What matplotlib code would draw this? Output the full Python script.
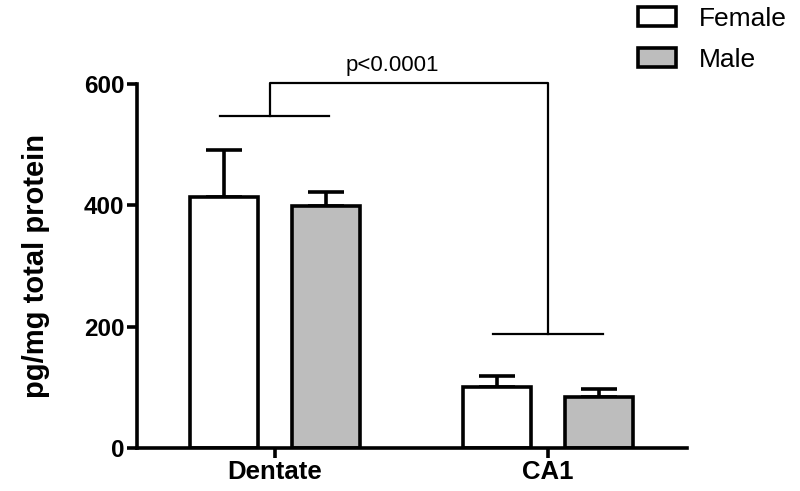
import matplotlib
matplotlib.use("Agg")
import matplotlib.pyplot as plt
import numpy as np

plt.rcParams['font.family'] = ['Liberation Sans', 'DejaVu Sans']

# data
regions = ["Dentate", "CA1"]
female_mean = [414, 100]
female_sem = [77, 19]
male_mean = [399, 83.5]
male_sem = [23, 14]
p_text = "p<0.0001"

fig = plt.figure(figsize=(8, 4.91), dpi=100)
ax = fig.add_axes([0.171, 0.0876, 0.688, 0.7414])

x = np.arange(len(regions))
w = 0.25
off = 0.187
err_kw = dict(elinewidth=2.6, capthick=2.6, capsize=13, ecolor="black", zorder=1)

b1 = ax.bar(x - off, female_mean, w, yerr=[np.zeros(2), female_sem],
            color="white", edgecolor="black", linewidth=2.6, error_kw=err_kw,
            label="Female", zorder=2)
b2 = ax.bar(x + off, male_mean, w, yerr=[np.zeros(2), male_sem],
            color="#bdbdbd", edgecolor="black", linewidth=2.6, error_kw=err_kw,
            label="Male", zorder=2)

ax.set_xlim(-0.505, 1.509)
ax.set_ylim(0, 600)
ax.set_yticks([0, 200, 400, 600])
ax.set_xticks(x)
ax.set_xticklabels(regions, fontweight="bold", fontsize=18.5)
ax.tick_params(axis="y", labelsize=17.5, width=2.6, length=7, pad=2)
ax.tick_params(axis="x", width=2.6, length=7, pad=2)
for lbl in ax.get_yticklabels():
    lbl.set_fontweight("bold")
ax.set_ylabel("pg/mg total protein", fontweight="bold", fontsize=21, labelpad=24)

for s in ["top", "right"]:
    ax.spines[s].set_visible(False)
for s in ["left", "bottom"]:
    ax.spines[s].set_linewidth(2.6)

# significance bracket
lw = 1.6
ax.plot([-0.2, 0.2], [548, 548], color="black", lw=lw, clip_on=False)
ax.plot([1 - 0.2, 1 + 0.2], [188, 188], color="black", lw=lw, clip_on=False)
ax.plot([-0.018, -0.018, 1.0, 1.0], [548, 602, 602, 188], color="black", lw=lw,
        clip_on=False)
ax.text(0.43, 613, p_text, ha="center", va="bottom", fontsize=16)

fig.legend(handles=[b1, b2], loc="upper left", bbox_to_anchor=(0.768, 1.035),
           frameon=False, fontsize=19, handlelength=1.45, handleheight=0.75,
           labelspacing=0.65, handletextpad=0.85)

fig.savefig("out.png", dpi=100)
